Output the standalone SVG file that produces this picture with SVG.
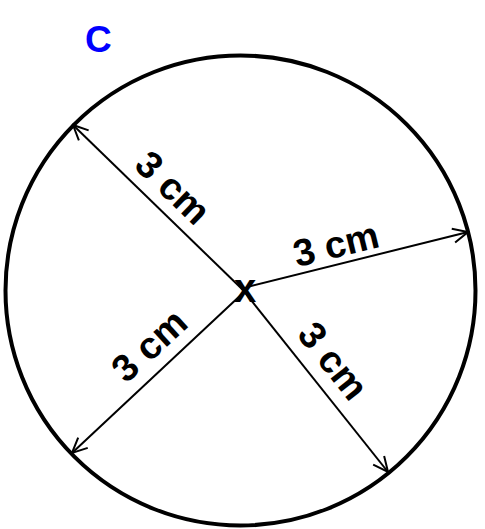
<svg xmlns="http://www.w3.org/2000/svg" width="485" height="529" viewBox="0 0 485 529">
<style>
.lbl{font-family:"Liberation Sans",Arial,sans-serif;font-weight:bold;font-size:38px;fill:#000;text-anchor:middle}
.ln{stroke:#000;stroke-width:2;fill:none;marker-end:url(#arr)}
</style>
<defs>
<marker id="arr" viewBox="0 0 20 20" refX="18" refY="10" markerWidth="20" markerHeight="20" markerUnits="userSpaceOnUse" orient="auto">
<path d="M3,3 L18,10 L3,17" fill="none" stroke="#000" stroke-width="2"/>
</marker>
</defs>
<rect width="485" height="529" fill="#fff"/>
<g id="circle">
<circle cx="240.5" cy="290.5" r="235" fill="none" stroke="#000" stroke-width="4"/>
</g>
<g id="title">
<text x="85" y="52" style="font-family:'Liberation Sans',Arial,sans-serif;font-weight:bold;font-size:37px;fill:#0000ff">C</text>
</g>
<g id="center">
<text x="245" y="302" class="lbl" style="font-size:40px">x</text>
</g>
<g id="connectors">
<line class="ln" x1="243" y1="290" x2="73" y2="125"/>
<line class="ln" x1="247" y1="287" x2="468" y2="232"/>
<line class="ln" x1="243" y1="293" x2="72" y2="453"/>
<line class="ln" x1="243" y1="290" x2="388" y2="472"/>
</g>
<g id="labels">
<text class="lbl" transform="translate(164,197) rotate(44)">3 cm</text>
<text class="lbl" transform="translate(339,257) rotate(-13.7)">3 cm</text>
<text class="lbl" transform="translate(158,355) rotate(-42.7)">3 cm</text>
<text class="lbl" transform="translate(323,369) rotate(51.5)">3 cm</text>
</g>
</svg>
